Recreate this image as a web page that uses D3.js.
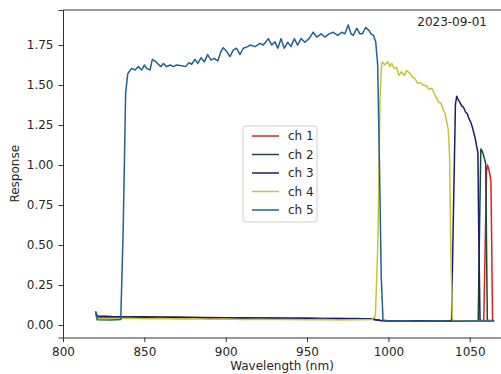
<!DOCTYPE html>
<html>
<head>
<meta charset="utf-8">
<script src="https://cdn.jsdelivr.net/npm/d3@7"></script>
<style>
  body { margin: 0; background: #fff; }
  text { font-family: "DejaVu Sans", sans-serif; fill: #262626; }
</style>
</head>
<body>
<svg id="chart" width="501" height="374"></svg>
<script>
// Series: [wavelength nm, response]
var ch1 = [[820,0.085],[821,0.055],[830,0.052],[840,0.05],[850,0.051],[860,0.048],[870,0.049],[880,0.046],[890,0.047],[900,0.045],[910,0.046],[920,0.043],[930,0.044],[940,0.042],[950,0.043],[960,0.04],[970,0.041],[980,0.039],[990,0.038],[995,0.03],[1000,0.027],[1010,0.026],[1020,0.027],[1030,0.025],[1040,0.026],[1050,0.025],[1058.6,0.026],[1059.5,0.5],[1060.3,0.96],[1060.9,1.0],[1061.5,0.98],[1062.2,0.95],[1063,0.9],[1063.5,0.5],[1064,0.03],[1065,0.027]];

var ch2 = [[820,0.08],[821,0.056],[830,0.053],[840,0.052],[850,0.05],[860,0.05],[870,0.047],[880,0.048],[890,0.046],[900,0.046],[910,0.044],[920,0.045],[930,0.042],[940,0.043],[950,0.041],[960,0.041],[970,0.039],[980,0.04],[990,0.037],[995,0.029],[1000,0.026],[1010,0.027],[1020,0.025],[1030,0.026],[1040,0.025],[1050,0.026],[1055.2,0.026],[1056,0.6],[1056.8,1.1],[1057.5,1.09],[1058.2,1.07],[1059,1.04],[1059.8,1.01],[1060.3,0.5],[1060.8,0.03],[1065,0.026]];

var ch3 = [[820,0.075],[821,0.05],[830,0.051],[840,0.049],[850,0.05],[860,0.047],[870,0.048],[880,0.045],[890,0.046],[900,0.044],[910,0.045],[920,0.042],[930,0.043],[940,0.041],[950,0.042],[960,0.039],[970,0.04],[980,0.038],[990,0.036],[995,0.028],[1000,0.027],[1010,0.026],[1020,0.026],[1030,0.025],[1038.8,0.026],[1039.6,0.5],[1041.2,1.38],[1042,1.43],[1042.8,1.41],[1044,1.39],[1045,1.37],[1046.2,1.36],[1047.5,1.33],[1048.5,1.32],[1049.5,1.29],[1050.5,1.27],[1051.5,1.24],[1052.5,1.2],[1053.3,1.17],[1054.2,1.12],[1055,1.08],[1055.5,0.6],[1056.3,0.03],[1060,0.025],[1065,0.025]];

var ch4 = [[820,0.07],[821,0.042],[830,0.041],[840,0.042],[850,0.039],[860,0.04],[870,0.038],[880,0.039],[890,0.036],[900,0.038],[910,0.035],[920,0.036],[930,0.034],[940,0.035],[950,0.033],[960,0.034],[970,0.032],[980,0.033],[990,0.034],[992,0.06],[993.5,0.5],[994.8,1.4],[995.6,1.6],[996.2,1.646],[997.8,1.625],[999.5,1.646],[1001,1.615],[1002,1.635],[1003.6,1.604],[1005,1.61],[1006.5,1.56],[1008,1.583],[1009.8,1.56],[1011.2,1.59],[1013.3,1.573],[1014.7,1.55],[1016.3,1.54],[1018,1.51],[1019.4,1.517],[1021.5,1.5],[1023.5,1.494],[1025,1.473],[1026.6,1.48],[1028.2,1.448],[1029.7,1.417],[1030.7,1.395],[1032.3,1.385],[1033.8,1.344],[1034.8,1.323],[1035.8,1.27],[1036.8,1.22],[1037.6,1.05],[1038.3,0.5],[1039.3,0.04],[1040,0.027],[1050,0.025],[1065,0.025]];

var ch5 = [[820,0.085],[821,0.033],[830,0.032],[835.5,0.034],[837,0.6],[838.5,1.45],[839.8,1.57],[840.6,1.583],[842.2,1.604],[844.3,1.594],[846.3,1.615],[848.4,1.594],[850,1.625],[851.4,1.604],[853.5,1.594],[854.9,1.66],[857,1.646],[858.6,1.63],[860.2,1.615],[861.7,1.635],[863.7,1.615],[865.8,1.625],[867.8,1.615],[869.9,1.625],[872.9,1.62],[875.4,1.615],[877.4,1.64],[879.1,1.63],[881.1,1.66],[882.8,1.635],[884.8,1.67],[886.9,1.646],[888.9,1.69],[891,1.656],[893,1.667],[895.1,1.65],[897.1,1.71],[898.5,1.733],[900.6,1.71],[902.6,1.677],[904.7,1.72],[906.7,1.73],[908.8,1.69],[910.8,1.73],[913.5,1.74],[915,1.75],[918,1.74],[921.1,1.76],[923.1,1.75],[926.2,1.79],[928.3,1.75],[930.3,1.77],[932,1.73],[934,1.79],[936,1.73],[938.1,1.767],[940.1,1.74],[942.2,1.79],[944.2,1.75],[946.3,1.79],[948.7,1.767],[951.2,1.79],[953.8,1.83],[955.9,1.8],[958.6,1.82],[961,1.8],[963.5,1.82],[966.1,1.83],[968.8,1.81],[971.3,1.83],[973.3,1.82],[975.3,1.875],[977,1.82],[978.4,1.81],[980.5,1.855],[982.5,1.82],[984,1.82],[986.1,1.86],[988.1,1.84],[989.3,1.82],[990.8,1.81],[992.2,1.77],[993.4,1.625],[994.5,1.0],[995.6,0.3],[996.7,0.03],[1000,0.025],[1010,0.027],[1020,0.024],[1030,0.026],[1040,0.024],[1050,0.025],[1065,0.025]];

var seriesNames = ["ch 1", "ch 2", "ch 3", "ch 4", "ch 5"];
var seriesData = [ch1, ch2, ch3, ch4, ch5];
var seriesColors = ["#e0201e", "#1d4b36", "#1b1d68", "#c9c435", "#1f6291"];
var xTicks = [800, 850, 900, 950, 1000, 1050];
var yTicks = [0, 0.25, 0.5, 0.75, 1.0, 1.25, 1.5, 1.75];
var dateLabel = "2023-09-01";

var svg = d3.select("#chart");
var plotLeft = 63, plotRight = 501, plotTop = 10, plotBottom = 337.5;

var x = d3.scaleLinear().domain([800, 1069.2]).range([plotLeft, plotRight]);
var y = d3.scaleLinear().domain([-0.078, 1.969]).range([plotBottom, plotTop]);

// axes
svg.append("g")
    .attr("transform", "translate(0," + plotBottom + ")")
    .call(d3.axisBottom(x).tickValues(xTicks).tickSize(4.5).tickPadding(5).tickFormat(d3.format("d")))
    .call(g => g.select(".domain").attr("stroke", "#333"))
    .call(g => g.selectAll(".tick line").attr("stroke", "#333"))
    .call(g => g.selectAll("text").attr("font-size", 12).attr("fill", "#262626"));

svg.append("g")
    .attr("transform", "translate(" + plotLeft + ",0)")
    .call(d3.axisLeft(y).tickValues(yTicks).tickSize(4.5).tickPadding(5).tickFormat(d3.format(".2f")))
    .call(g => g.select(".domain").attr("stroke", "#333"))
    .call(g => g.selectAll(".tick line").attr("stroke", "#333"))
    .call(g => g.selectAll("text").attr("font-size", 12).attr("fill", "#262626"));

// top spine
svg.append("line")
    .attr("x1", plotLeft).attr("x2", plotRight)
    .attr("y1", plotTop).attr("y2", plotTop)
    .attr("stroke", "#333");

var line = d3.line()
    .x(d => x(d[0]))
    .y(d => y(d[1]));

svg.append("g")
  .selectAll("path")
  .data(seriesData)
  .enter()
  .append("path")
    .attr("d", line)
    .attr("fill", "none")
    .attr("stroke", (d, i) => seriesColors[i])
    .attr("stroke-width", 1.5)
    .attr("stroke-linejoin", "round");

// labels
svg.append("text")
    .attr("x", (plotLeft + plotRight) / 2)
    .attr("y", 370)
    .attr("text-anchor", "middle")
    .attr("font-size", 12)
    .text("Wavelength (nm)");

svg.append("text")
    .attr("transform", "translate(19," + (plotTop + plotBottom) / 2 + ") rotate(-90)")
    .attr("text-anchor", "middle")
    .attr("font-size", 12)
    .text("Response");

svg.append("text")
    .attr("x", 487)
    .attr("y", 26)
    .attr("text-anchor", "end")
    .attr("font-size", 12)
    .text(dateLabel);

// legend
var legend = svg.append("g").attr("transform", "translate(243,126)");
legend.append("rect")
    .attr("width", 74).attr("height", 96)
    .attr("rx", 3)
    .attr("fill", "#fff").attr("fill-opacity", 0.8)
    .attr("stroke", "#d0d0d0");

var item = legend.selectAll(".item")
  .data(seriesNames)
  .enter()
  .append("g")
    .attr("class", "item")
    .attr("transform", (d, i) => "translate(0," + (10 + i * 18.5) + ")");

item.append("line")
    .attr("x1", 9).attr("x2", 36)
    .attr("stroke", (d, i) => seriesColors[i])
    .attr("stroke-width", 1.5);

item.append("text")
    .attr("x", 45)
    .attr("dy", "0.35em")
    .attr("font-size", 12)
    .text(d => d);
</script>
</body>
</html>
